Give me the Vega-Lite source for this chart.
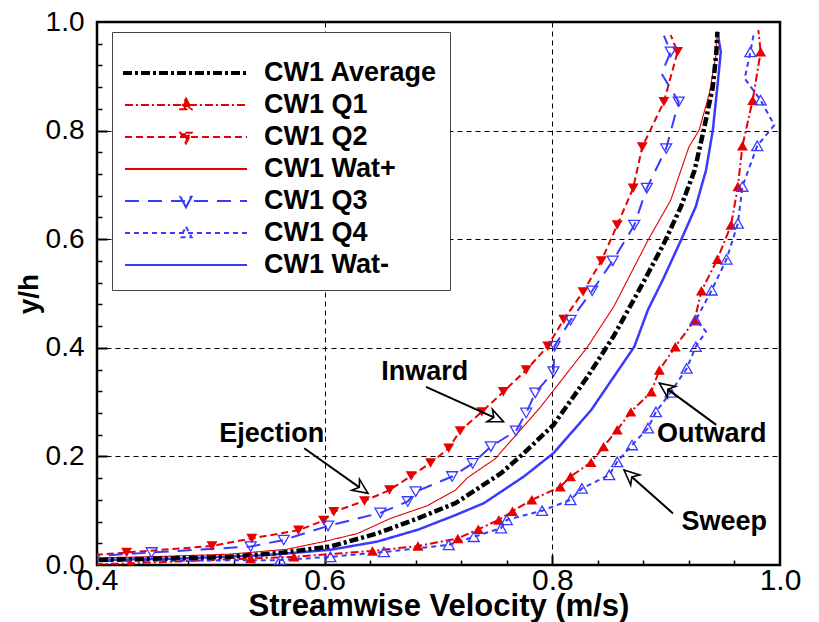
{
  "$schema": "https://vega.github.io/schema/vega-lite/v6.json",
  "width": 683,
  "height": 543,
  "autosize": "none",
  "padding": {"left": 97, "top": 22, "right": 39, "bottom": 57},
  "config": {
    "font": "Liberation Sans",
    "view": {"stroke": "black", "strokeWidth": 2.5},
    "axis": {"labelColor": "black", "titleColor": "black", "tickColor": "black"}
  },
  "resolve": {"axis": {"x": "independent", "y": "independent"}},
  "datasets": {
    "profiles": [
      {"series": "CW1 Average", "v": 0.37, "y": 0.008},
      {"series": "CW1 Average", "v": 0.459, "y": 0.012},
      {"series": "CW1 Average", "v": 0.517, "y": 0.015},
      {"series": "CW1 Average", "v": 0.564, "y": 0.023},
      {"series": "CW1 Average", "v": 0.605, "y": 0.034},
      {"series": "CW1 Average", "v": 0.646, "y": 0.058},
      {"series": "CW1 Average", "v": 0.682, "y": 0.086},
      {"series": "CW1 Average", "v": 0.715, "y": 0.114},
      {"series": "CW1 Average", "v": 0.755, "y": 0.169},
      {"series": "CW1 Average", "v": 0.775, "y": 0.206},
      {"series": "CW1 Average", "v": 0.801, "y": 0.258},
      {"series": "CW1 Average", "v": 0.831, "y": 0.347},
      {"series": "CW1 Average", "v": 0.854, "y": 0.422},
      {"series": "CW1 Average", "v": 0.878, "y": 0.513},
      {"series": "CW1 Average", "v": 0.898, "y": 0.592},
      {"series": "CW1 Average", "v": 0.913, "y": 0.66},
      {"series": "CW1 Average", "v": 0.925, "y": 0.727},
      {"series": "CW1 Average", "v": 0.933, "y": 0.801},
      {"series": "CW1 Average", "v": 0.941, "y": 0.881},
      {"series": "CW1 Average", "v": 0.944, "y": 0.942},
      {"series": "CW1 Average", "v": 0.945, "y": 0.982},

      {"series": "CW1 Q1", "v": 0.37, "y": 0.0},
      {"series": "CW1 Q1", "v": 0.429, "y": 0.003},
      {"series": "CW1 Q1", "v": 0.535, "y": 0.012},
      {"series": "CW1 Q1", "v": 0.573, "y": 0.015},
      {"series": "CW1 Q1", "v": 0.642, "y": 0.026},
      {"series": "CW1 Q1", "v": 0.682, "y": 0.035},
      {"series": "CW1 Q1", "v": 0.717, "y": 0.049},
      {"series": "CW1 Q1", "v": 0.735, "y": 0.066},
      {"series": "CW1 Q1", "v": 0.753, "y": 0.083},
      {"series": "CW1 Q1", "v": 0.765, "y": 0.099},
      {"series": "CW1 Q1", "v": 0.782, "y": 0.12},
      {"series": "CW1 Q1", "v": 0.807, "y": 0.144},
      {"series": "CW1 Q1", "v": 0.816, "y": 0.163},
      {"series": "CW1 Q1", "v": 0.834, "y": 0.189},
      {"series": "CW1 Q1", "v": 0.845, "y": 0.218},
      {"series": "CW1 Q1", "v": 0.857, "y": 0.249},
      {"series": "CW1 Q1", "v": 0.869, "y": 0.282},
      {"series": "CW1 Q1", "v": 0.887, "y": 0.319},
      {"series": "CW1 Q1", "v": 0.894, "y": 0.359},
      {"series": "CW1 Q1", "v": 0.908, "y": 0.402},
      {"series": "CW1 Q1", "v": 0.925, "y": 0.451},
      {"series": "CW1 Q1", "v": 0.931, "y": 0.505},
      {"series": "CW1 Q1", "v": 0.945, "y": 0.563},
      {"series": "CW1 Q1", "v": 0.957, "y": 0.626},
      {"series": "CW1 Q1", "v": 0.963, "y": 0.697},
      {"series": "CW1 Q1", "v": 0.967, "y": 0.772},
      {"series": "CW1 Q1", "v": 0.976, "y": 0.856},
      {"series": "CW1 Q1", "v": 0.983, "y": 0.945},
      {"series": "CW1 Q1", "v": 0.981, "y": 0.985},

      {"series": "CW1 Q2", "v": 0.37, "y": 0.014},
      {"series": "CW1 Q2", "v": 0.426, "y": 0.023},
      {"series": "CW1 Q2", "v": 0.501, "y": 0.035},
      {"series": "CW1 Q2", "v": 0.536, "y": 0.049},
      {"series": "CW1 Q2", "v": 0.577, "y": 0.064},
      {"series": "CW1 Q2", "v": 0.599, "y": 0.082},
      {"series": "CW1 Q2", "v": 0.608, "y": 0.098},
      {"series": "CW1 Q2", "v": 0.635, "y": 0.118},
      {"series": "CW1 Q2", "v": 0.657, "y": 0.138},
      {"series": "CW1 Q2", "v": 0.676, "y": 0.164},
      {"series": "CW1 Q2", "v": 0.693, "y": 0.188},
      {"series": "CW1 Q2", "v": 0.709, "y": 0.215},
      {"series": "CW1 Q2", "v": 0.719, "y": 0.247},
      {"series": "CW1 Q2", "v": 0.738, "y": 0.282},
      {"series": "CW1 Q2", "v": 0.757, "y": 0.319},
      {"series": "CW1 Q2", "v": 0.777, "y": 0.359},
      {"series": "CW1 Q2", "v": 0.796, "y": 0.403},
      {"series": "CW1 Q2", "v": 0.81, "y": 0.452},
      {"series": "CW1 Q2", "v": 0.827, "y": 0.503},
      {"series": "CW1 Q2", "v": 0.843, "y": 0.56},
      {"series": "CW1 Q2", "v": 0.857, "y": 0.626},
      {"series": "CW1 Q2", "v": 0.871, "y": 0.694},
      {"series": "CW1 Q2", "v": 0.879, "y": 0.77},
      {"series": "CW1 Q2", "v": 0.898, "y": 0.853},
      {"series": "CW1 Q2", "v": 0.91, "y": 0.945},
      {"series": "CW1 Q2", "v": 0.904, "y": 0.976},

      {"series": "CW1 Wat+", "v": 0.37, "y": 0.012},
      {"series": "CW1 Wat+", "v": 0.444, "y": 0.015},
      {"series": "CW1 Wat+", "v": 0.517, "y": 0.02},
      {"series": "CW1 Wat+", "v": 0.567, "y": 0.029},
      {"series": "CW1 Wat+", "v": 0.599, "y": 0.043},
      {"series": "CW1 Wat+", "v": 0.629, "y": 0.058},
      {"series": "CW1 Wat+", "v": 0.658, "y": 0.086},
      {"series": "CW1 Wat+", "v": 0.69, "y": 0.109},
      {"series": "CW1 Wat+", "v": 0.715, "y": 0.138},
      {"series": "CW1 Wat+", "v": 0.725, "y": 0.16},
      {"series": "CW1 Wat+", "v": 0.75, "y": 0.196},
      {"series": "CW1 Wat+", "v": 0.79, "y": 0.292},
      {"series": "CW1 Wat+", "v": 0.831, "y": 0.402},
      {"series": "CW1 Wat+", "v": 0.854, "y": 0.476},
      {"series": "CW1 Wat+", "v": 0.884, "y": 0.598},
      {"series": "CW1 Wat+", "v": 0.904, "y": 0.672},
      {"series": "CW1 Wat+", "v": 0.92, "y": 0.77},
      {"series": "CW1 Wat+", "v": 0.929, "y": 0.801},
      {"series": "CW1 Wat+", "v": 0.938, "y": 0.869},
      {"series": "CW1 Wat+", "v": 0.944, "y": 0.942},
      {"series": "CW1 Wat+", "v": 0.944, "y": 0.982},

      {"series": "CW1 Q3", "v": 0.37, "y": 0.013},
      {"series": "CW1 Q3", "v": 0.448, "y": 0.023},
      {"series": "CW1 Q3", "v": 0.535, "y": 0.034},
      {"series": "CW1 Q3", "v": 0.564, "y": 0.046},
      {"series": "CW1 Q3", "v": 0.603, "y": 0.072},
      {"series": "CW1 Q3", "v": 0.649, "y": 0.096},
      {"series": "CW1 Q3", "v": 0.673, "y": 0.117},
      {"series": "CW1 Q3", "v": 0.68, "y": 0.135},
      {"series": "CW1 Q3", "v": 0.712, "y": 0.163},
      {"series": "CW1 Q3", "v": 0.73, "y": 0.187},
      {"series": "CW1 Q3", "v": 0.746, "y": 0.218},
      {"series": "CW1 Q3", "v": 0.768, "y": 0.247},
      {"series": "CW1 Q3", "v": 0.777, "y": 0.28},
      {"series": "CW1 Q3", "v": 0.785, "y": 0.317},
      {"series": "CW1 Q3", "v": 0.801, "y": 0.356},
      {"series": "CW1 Q3", "v": 0.802, "y": 0.403},
      {"series": "CW1 Q3", "v": 0.816, "y": 0.451},
      {"series": "CW1 Q3", "v": 0.835, "y": 0.505},
      {"series": "CW1 Q3", "v": 0.853, "y": 0.56},
      {"series": "CW1 Q3", "v": 0.872, "y": 0.626},
      {"series": "CW1 Q3", "v": 0.883, "y": 0.694},
      {"series": "CW1 Q3", "v": 0.9, "y": 0.767},
      {"series": "CW1 Q3", "v": 0.911, "y": 0.853},
      {"series": "CW1 Q3", "v": 0.896, "y": 0.905},
      {"series": "CW1 Q3", "v": 0.904, "y": 0.945},
      {"series": "CW1 Q3", "v": 0.898, "y": 0.975},

      {"series": "CW1 Q4", "v": 0.37, "y": 0.007},
      {"series": "CW1 Q4", "v": 0.561, "y": 0.009},
      {"series": "CW1 Q4", "v": 0.605, "y": 0.015},
      {"series": "CW1 Q4", "v": 0.652, "y": 0.024},
      {"series": "CW1 Q4", "v": 0.709, "y": 0.037},
      {"series": "CW1 Q4", "v": 0.731, "y": 0.052},
      {"series": "CW1 Q4", "v": 0.755, "y": 0.068},
      {"series": "CW1 Q4", "v": 0.76, "y": 0.083},
      {"series": "CW1 Q4", "v": 0.791, "y": 0.1},
      {"series": "CW1 Q4", "v": 0.816, "y": 0.12},
      {"series": "CW1 Q4", "v": 0.826, "y": 0.141},
      {"series": "CW1 Q4", "v": 0.85, "y": 0.166},
      {"series": "CW1 Q4", "v": 0.857, "y": 0.19},
      {"series": "CW1 Q4", "v": 0.87, "y": 0.221},
      {"series": "CW1 Q4", "v": 0.884, "y": 0.252},
      {"series": "CW1 Q4", "v": 0.891, "y": 0.282},
      {"series": "CW1 Q4", "v": 0.904, "y": 0.318},
      {"series": "CW1 Q4", "v": 0.918, "y": 0.362},
      {"series": "CW1 Q4", "v": 0.926, "y": 0.402},
      {"series": "CW1 Q4", "v": 0.935, "y": 0.43},
      {"series": "CW1 Q4", "v": 0.926, "y": 0.451},
      {"series": "CW1 Q4", "v": 0.94, "y": 0.506},
      {"series": "CW1 Q4", "v": 0.953, "y": 0.563},
      {"series": "CW1 Q4", "v": 0.963, "y": 0.629},
      {"series": "CW1 Q4", "v": 0.967, "y": 0.697},
      {"series": "CW1 Q4", "v": 0.98, "y": 0.772},
      {"series": "CW1 Q4", "v": 0.995, "y": 0.81},
      {"series": "CW1 Q4", "v": 0.983, "y": 0.856},
      {"series": "CW1 Q4", "v": 0.969, "y": 0.896},
      {"series": "CW1 Q4", "v": 0.974, "y": 0.945},
      {"series": "CW1 Q4", "v": 0.977, "y": 0.979},

      {"series": "CW1 Wat-", "v": 0.37, "y": 0.008},
      {"series": "CW1 Wat-", "v": 0.473, "y": 0.012},
      {"series": "CW1 Wat-", "v": 0.547, "y": 0.018},
      {"series": "CW1 Wat-", "v": 0.605, "y": 0.028},
      {"series": "CW1 Wat-", "v": 0.646, "y": 0.043},
      {"series": "CW1 Wat-", "v": 0.682, "y": 0.065},
      {"series": "CW1 Wat-", "v": 0.715, "y": 0.092},
      {"series": "CW1 Wat-", "v": 0.74, "y": 0.114},
      {"series": "CW1 Wat-", "v": 0.775, "y": 0.163},
      {"series": "CW1 Wat-", "v": 0.801, "y": 0.206},
      {"series": "CW1 Wat-", "v": 0.834, "y": 0.285},
      {"series": "CW1 Wat-", "v": 0.872, "y": 0.402},
      {"series": "CW1 Wat-", "v": 0.884, "y": 0.47},
      {"series": "CW1 Wat-", "v": 0.897, "y": 0.525},
      {"series": "CW1 Wat-", "v": 0.913, "y": 0.598},
      {"series": "CW1 Wat-", "v": 0.926, "y": 0.66},
      {"series": "CW1 Wat-", "v": 0.935, "y": 0.727},
      {"series": "CW1 Wat-", "v": 0.941, "y": 0.801},
      {"series": "CW1 Wat-", "v": 0.945, "y": 0.881},
      {"series": "CW1 Wat-", "v": 0.948, "y": 0.945},
      {"series": "CW1 Wat-", "v": 0.945, "y": 0.982}
    ],
    "notes": [
      {"label": "Inward", "tx": 0.688, "ty": 0.341, "x": 0.689, "y": 0.328, "x2": 0.757, "y2": 0.264, "angle": 24},
      {"label": "Ejection", "tx": 0.5535, "ty": 0.2265, "x": 0.582, "y": 0.215, "x2": 0.638, "y2": 0.132, "angle": 35},
      {"label": "Outward", "tx": 0.94, "ty": 0.227, "x": 0.944, "y": 0.258, "x2": 0.894, "y2": 0.335, "angle": 216},
      {"label": "Sweep", "tx": 0.951, "ty": 0.0645, "x": 0.906, "y": 0.095, "x2": 0.863, "y2": 0.175, "angle": 222}
    ]
  },
  "layer": [
    {
      "data": {"name": "profiles"},
      "mark": {"type": "point", "opacity": 0, "clip": true},
      "encoding": {
        "x": {"field": "v", "type": "quantitative", "scale": {"domain": [0.4, 1.0], "nice": false, "zero": false}, "axis": null},
        "y": {"field": "y", "type": "quantitative", "scale": {"domain": [0, 1], "nice": false, "zero": false}, "axis": null},
        "color": {
          "field": "series", "type": "nominal",
          "scale": {"domain": ["CW1 Average", "CW1 Q1", "CW1 Q2", "CW1 Wat+", "CW1 Q3", "CW1 Q4", "CW1 Wat-"],
                    "range": ["#000000", "#e60000", "#e60000", "#e60000", "#3a3aff", "#3a3aff", "#3a3aff"]},
          "legend": {
            "orient": "none", "legendX": 15, "legendY": 10,
            "title": " ", "titleFontSize": 10, "titlePadding": 4,
            "padding": 12, "rowPadding": 4,
            "strokeColor": "#444444", "fillColor": "white",
            "labelFontSize": 27, "labelFontWeight": "bold", "labelColor": "black", "labelLimit": 400,
            "symbolSize": 784, "symbolOffset": 47, "labelOffset": 63, "symbolStrokeWidth": 2,
            "symbolOpacity": 1, "symbolFillColor": "transparent", "symbolStrokeColor": "black"
          }
        },
        "fill": {
          "field": "series", "type": "nominal",
          "scale": {"domain": ["CW1 Average", "CW1 Q1", "CW1 Q2", "CW1 Wat+", "CW1 Q3", "CW1 Q4", "CW1 Wat-"],
                    "range": ["transparent", "#e60000", "#e60000", "transparent", "white", "white", "transparent"]}
        },
        "shape": {
          "field": "series", "type": "nominal",
          "scale": {"domain": ["CW1 Average", "CW1 Q1", "CW1 Q2", "CW1 Wat+", "CW1 Q3", "CW1 Q4", "CW1 Wat-"],
                    "range": ["M-4.5,-0.08H4.5M-4.5,0.08H4.5",
                              "M-4.36,0H4.36M0,-0.45L0.4,0.3L-0.4,0.3ZM0,-0.28L0.25,0.19L-0.25,0.19ZM0,-0.12L0.11,0.08L-0.11,0.08Z",
                              "M-4.36,0H4.36M0,0.45L0.4,-0.3L-0.4,-0.3ZM0,0.28L0.25,-0.19L-0.25,-0.19ZM0,0.12L0.11,-0.08L-0.11,-0.08Z",
                              "M-4.36,0H4.36",
                              "M-4.36,0H4.36M0,0.45L0.4,-0.3L-0.4,-0.3Z",
                              "M-4.36,0H4.36M0,-0.45L0.4,0.3L-0.4,0.3Z",
                              "M-4.36,0H4.36"]}
        },
        "strokeDash": {
          "field": "series", "type": "nominal",
          "scale": {"domain": ["CW1 Average", "CW1 Q1", "CW1 Q2", "CW1 Wat+", "CW1 Q3", "CW1 Q4", "CW1 Wat-"],
                    "range": [[9, 3, 3, 3], [8, 3, 2, 3], [7, 4], [1, 0], [14, 9], [5, 4], [1, 0]]}
        }
      }
    },
    {
      "data": {"name": "profiles"},
      "transform": [{"filter": "datum.series == 'CW1 Wat+'"}],
      "mark": {"type": "line", "clip": true, "strokeWidth": 1.1},
      "encoding": {
        "x": {"field": "v", "type": "quantitative", "axis": null},
        "y": {"field": "y", "type": "quantitative", "axis": null},
        "order": {"field": "y", "type": "quantitative"},
        "color": {"field": "series", "type": "nominal"},
        "strokeDash": {"field": "series", "type": "nominal"}
      }
    },
    {
      "data": {"name": "profiles"},
      "transform": [{"filter": "datum.series == 'CW1 Wat-'"}],
      "mark": {"type": "line", "clip": true, "strokeWidth": 2.5},
      "encoding": {
        "x": {"field": "v", "type": "quantitative", "axis": null},
        "y": {"field": "y", "type": "quantitative", "axis": null},
        "order": {"field": "y", "type": "quantitative"},
        "color": {"field": "series", "type": "nominal"},
        "strokeDash": {"field": "series", "type": "nominal"}
      }
    },
    {
      "data": {"name": "profiles"},
      "transform": [{"filter": "datum.series == 'CW1 Q1' || datum.series == 'CW1 Q2' || datum.series == 'CW1 Q3' || datum.series == 'CW1 Q4'"}],
      "mark": {"type": "line", "clip": true, "strokeCap": "butt", "strokeWidth": 2},
      "encoding": {
        "x": {"field": "v", "type": "quantitative",
              "axis": {"orient": "bottom", "values": [0.4, 0.6, 0.8, 1.0], "format": ".1f",
                       "labelFontSize": 30, "labelPadding": 0, "labelFlush": false, "labelOverlap": false,
                       "ticks": false, "domain": false,
                       "grid": true, "gridColor": "black", "gridDash": [5, 4], "gridWidth": 1,
                       "title": "Streamwise Velocity (m/s)", "titleFontSize": 31, "titleFontWeight": "bold", "titlePadding": -4}},
        "y": {"field": "y", "type": "quantitative",
              "axis": {"orient": "left", "values": [0, 0.2, 0.4, 0.6, 0.8, 1.0], "format": ".1f",
                       "labelFontSize": 28, "labelPadding": 13, "labelFlush": false, "labelOverlap": false,
                       "ticks": false, "domain": false,
                       "grid": true, "gridColor": "black", "gridDash": [5, 4], "gridWidth": 1,
                       "title": "y/h", "titleFontSize": 28, "titleFontWeight": "bold", "titlePadding": 2}},
        "order": {"field": "y", "type": "quantitative"},
        "color": {"field": "series", "type": "nominal"},
        "strokeDash": {"field": "series", "type": "nominal"}
      }
    },
    {
      "data": {"name": "profiles"},
      "transform": [{"filter": "datum.series == 'CW1 Average'"}],
      "mark": {"type": "line", "clip": true, "strokeCap": "butt", "strokeWidth": 4.5},
      "encoding": {
        "x": {"field": "v", "type": "quantitative", "axis": null},
        "y": {"field": "y", "type": "quantitative", "axis": null},
        "order": {"field": "y", "type": "quantitative"},
        "color": {"field": "series", "type": "nominal"},
        "strokeDash": {"field": "series", "type": "nominal"}
      }
    },
    {
      "data": {"name": "profiles"},
      "transform": [{"filter": "datum.series == 'CW1 Q1' && datum.y < 0.97"}],
      "mark": {"type": "point", "shape": "triangle-up", "filled": true, "color": "#e60000", "size": 120, "opacity": 1, "clip": true},
      "encoding": {
        "x": {"field": "v", "type": "quantitative",
              "axis": {"orient": "bottom", "values": [0.6, 0.8], "labels": false, "domain": false, "grid": false,
                       "ticks": true, "tickSize": -10, "tickWidth": 2, "title": null}},
        "y": {"field": "y", "type": "quantitative",
              "axis": {"orient": "left", "values": [0.2, 0.4, 0.6, 0.8], "labels": false, "domain": false, "grid": false,
                       "ticks": true, "tickSize": -10, "tickWidth": 2, "title": null}}
      }
    },
    {
      "data": {"name": "profiles"},
      "transform": [{"filter": "datum.series == 'CW1 Q2' && datum.y < 0.97"}],
      "mark": {"type": "point", "shape": "triangle-down", "filled": true, "color": "#e60000", "size": 120, "opacity": 1, "clip": true},
      "encoding": {
        "x": {"field": "v", "type": "quantitative",
              "axis": {"orient": "bottom", "values": [0.44, 0.48, 0.52, 0.56, 0.64, 0.68, 0.72, 0.76, 0.84, 0.88, 0.92, 0.96],
                       "labels": false, "domain": false, "grid": false,
                       "ticks": true, "tickSize": -5, "tickWidth": 1.5, "title": null}},
        "y": {"field": "y", "type": "quantitative",
              "axis": {"orient": "left", "values": [0.04, 0.08, 0.12, 0.16, 0.24, 0.28, 0.32, 0.36, 0.44, 0.48, 0.52, 0.56, 0.64, 0.68, 0.72, 0.76, 0.84, 0.88, 0.92, 0.96],
                       "labels": false, "domain": false, "grid": false,
                       "ticks": true, "tickSize": -5, "tickWidth": 1.5, "title": null}}
      }
    },
    {
      "data": {"name": "profiles"},
      "transform": [{"filter": "datum.series == 'CW1 Q3' && datum.y < 0.97 && datum.y != 0.905"}],
      "mark": {"type": "point", "shape": "triangle-down", "filled": false, "color": "#3a3aff", "strokeWidth": 1.3, "size": 120, "opacity": 1, "clip": true},
      "encoding": {
        "x": {"field": "v", "type": "quantitative", "axis": null},
        "y": {"field": "y", "type": "quantitative", "axis": null}
      }
    },
    {
      "data": {"name": "profiles"},
      "transform": [{"filter": "datum.series == 'CW1 Q4' && datum.y < 0.97 && datum.y != 0.43 && datum.y != 0.81 && datum.y != 0.896"}],
      "mark": {"type": "point", "shape": "triangle-up", "filled": false, "color": "#3a3aff", "strokeWidth": 1.3, "size": 120, "opacity": 1, "clip": true},
      "encoding": {
        "x": {"field": "v", "type": "quantitative", "axis": null},
        "y": {"field": "y", "type": "quantitative", "axis": null}
      }
    },
    {
      "data": {"name": "notes"},
      "mark": {"type": "rule", "color": "black", "strokeWidth": 2},
      "encoding": {
        "x": {"field": "x", "type": "quantitative", "axis": null},
        "y": {"field": "y", "type": "quantitative", "axis": null},
        "x2": {"field": "x2"},
        "y2": {"field": "y2"}
      }
    },
    {
      "data": {"name": "notes"},
      "mark": {"type": "point", "shape": "M0,0L-1,-0.45L-0.7,0L-1,0.45Z", "filled": true, "fill": "white", "stroke": "black", "strokeWidth": 1.6, "size": 900, "opacity": 1},
      "encoding": {
        "x": {"field": "x2", "type": "quantitative", "axis": null},
        "y": {"field": "y2", "type": "quantitative", "axis": null},
        "angle": {"field": "angle", "type": "quantitative", "scale": null}
      }
    },
    {
      "data": {"name": "notes"},
      "mark": {"type": "text", "fontSize": 27, "fontWeight": "bold", "color": "black", "align": "center", "baseline": "alphabetic"},
      "encoding": {
        "x": {"field": "tx", "type": "quantitative", "axis": null},
        "y": {"field": "ty", "type": "quantitative", "axis": null},
        "text": {"field": "label", "type": "nominal"}
      }
    }
  ]
}
